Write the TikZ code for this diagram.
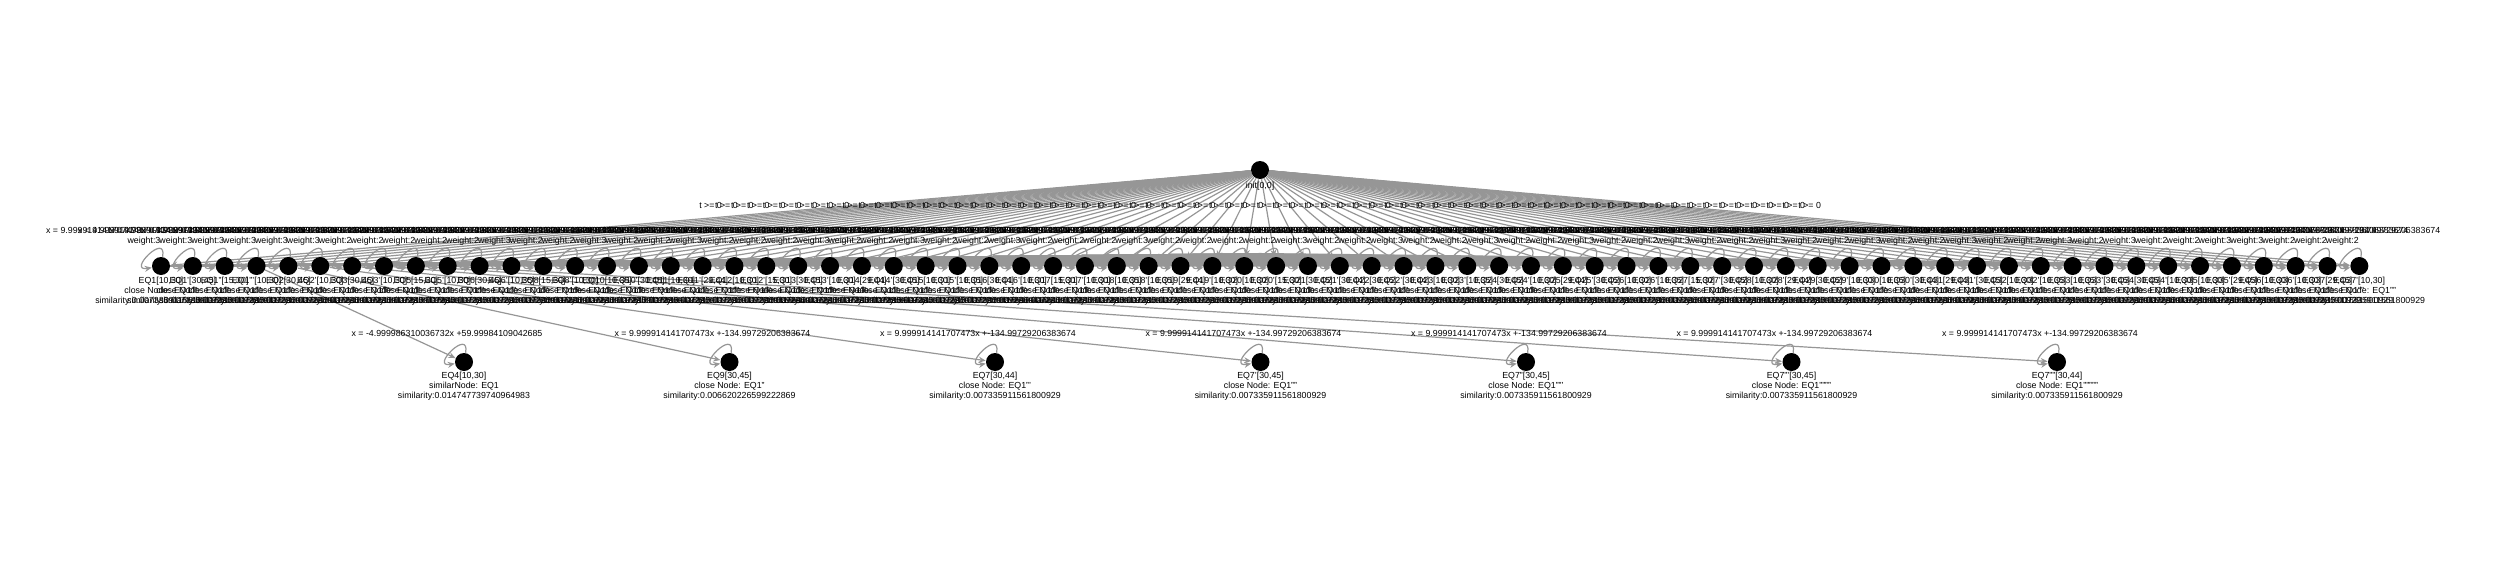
\documentclass[tikz,border=0pt]{standalone}
\usepackage{fontspec}
\setmainfont{Liberation Sans}
\usetikzlibrary{arrows.meta, positioning, backgrounds}

\definecolor{edgegrey}{RGB}{150,150,150}

\tikzset{
  eqnode/.style={circle, fill=black, minimum size=9pt, inner sep=0pt},
  eqtext/.style={font=\fontsize{4.4}{5}\selectfont, align=center, inner sep=0pt},
  link/.style={draw=edgegrey, line width=0.6pt, -{Stealth[length=3.5pt, width=3pt]}},
}

\begin{document}
\begin{tikzpicture}
  \useasboundingbox (0,0) rectangle (1250pt,-281pt);

  % root node
  \node[eqnode] (init) at (630pt,-85pt) {};
  \node[eqtext, below=1pt of init] (init label) {init[0,0]};

  % first row: one node per equation
  \foreach \i/\eqn in {0/{EQ1[10,30]},1/{EQ1'[30,45]},2/{EQ1''[15,30]},3/{EQ1'''[10,30]},4/{EQ2[30,45]},
      5/{EQ2'[10,30]},6/{EQ3[30,45]},7/{EQ3'[10,30]},8/{EQ5[15,30]},9/{EQ5'[10,30]},10/{EQ6[30,45]},
      11/{EQ6'[10,35]},12/{EQ8[15,30]},13/{EQ8'[10,30]},14/{EQ10[10,35]},15/{EQ10'[30,45]},16/{EQ11[10,30]},
      17/{EQ11'[29,44]},18/{EQ12[10,30]},19/{EQ12'[15,30]},20/{EQ13[30,45]},21/{EQ13'[10,30]},22/{EQ14[29,44]},
      23/{EQ14'[30,45]},24/{EQ15[10,30]},25/{EQ15'[10,35]},26/{EQ16[30,44]},27/{EQ16'[10,30]},28/{EQ17[15,30]},
      29/{EQ17'[10,30]},30/{EQ18[10,35]},31/{EQ18'[10,35]},32/{EQ19[29,44]},33/{EQ19'[10,30]},34/{EQ20[10,30]},
      35/{EQ20'[15,30]},36/{EQ21[30,45]},37/{EQ21'[30,44]},38/{EQ22[30,45]},39/{EQ22'[30,44]},40/{EQ23[10,30]},
      41/{EQ23'[10,35]},42/{EQ24[30,45]},43/{EQ24'[10,30]},44/{EQ25[29,44]},45/{EQ25'[30,45]},46/{EQ26[10,30]},
      47/{EQ26'[10,35]},48/{EQ27[15,30]},49/{EQ27'[30,45]},50/{EQ28[10,30]},51/{EQ28'[29,44]},52/{EQ29[30,45]},
      53/{EQ29'[10,30]},54/{EQ30[10,35]},55/{EQ30'[30,44]},56/{EQ31[29,44]},57/{EQ31'[30,45]},58/{EQ32[10,30]},
      59/{EQ32'[10,35]},60/{EQ33[10,35]},61/{EQ33'[30,45]},62/{EQ34[30,45]},63/{EQ34'[10,30]},64/{EQ35[10,30]},
      65/{EQ35'[29,45]},66/{EQ36[10,30]},67/{EQ36'[10,30]},68/{EQ37[29,45]},69/{EQ37'[10,30]}} {
    \node[eqnode] (r\i) at (80.5pt+15.93pt*\i,-133pt) {};
    \node[eqtext, below=0.5pt of r\i] (r\i label)
      {\eqn\\close Node: EQ1''''\\similarity:0.007335911561800929};
  }

  % loop labels
  \foreach \i/\wt in {0/3,1/3,2/3,3/3,4/3,5/3,6/2,7/2,8/2,9/2,10/2,11/3,12/2,13/2,14/3,15/2,16/2,17/3,18/2,19/2,
      20/2,21/3,22/2,23/2,24/3,25/2,26/2,27/3,28/2,29/2,30/2,31/3,32/2,33/2,34/2,35/2,36/3,37/2,38/2,39/3,
      40/2,41/2,42/3,43/2,44/2,45/3,46/2,47/2,48/3,49/2,50/2,51/3,52/2,53/2,54/3,55/2,56/2,57/3,58/2,59/2,
      60/3,61/2,62/3,63/2,64/2,65/3,66/3,67/2,68/2,69/2} {
    \node[eqtext, above=5.2pt of r\i, xshift=-8.5pt] (r\i loop)
      {x = 9.999914141707473x +-134.99729206383674\\weight:\wt};
  }

  % second row: similar and close nodes
  \foreach \k/\name/\sim/\simval/\fit in {
      0/{EQ4[10,30]}/similarNode: EQ1/0.014747739740964983/-4.999986310036732x +59.99984109042685,
      1/{EQ9[30,45]}/close Node: EQ1''/0.006620226599222869/9.999914141707473x +-134.99729206383674,
      2/{EQ7[30,44]}/close Node: EQ1'''/0.007335911561800929/9.999914141707473x +-134.99729206383674,
      3/{EQ7'[30,45]}/close Node: EQ1''''/0.007335911561800929/9.999914141707473x +-134.99729206383674,
      4/{EQ7''[30,45]}/close Node: EQ1'''''/0.007335911561800929/9.999914141707473x +-134.99729206383674,
      5/{EQ7'''[30,45]}/close Node: EQ1''''''''/0.007335911561800929/9.999914141707473x +-134.99729206383674,
      6/{EQ7''''[30,44]}/close Node: EQ1''''''''''/0.007335911561800929/9.999914141707473x +-134.99729206383674} {
    \node[eqnode] (b\k) at (232pt+132.75pt*\k,-181pt) {};
    \node[eqtext, below=0.3pt of b\k] (b\k label) {\name\\\sim\\similarity:\simval};
    \node[eqtext, above=8pt of b\k, xshift=-8.5pt] (b\k loop) {x = \fit};
  }

  % root link labels
  \foreach \i in {0,...,69} {
    \path (init) -- node[eqtext, yshift=6.5pt] {t >= 0} (r\i);
  }

  \begin{scope}[on background layer]
    % self loops
    \foreach \i in {0,...,69} {
      \draw[link] (r\i.80) .. controls +(80:13pt) and +(190:13pt) .. (r\i.190);
    }
    \foreach \k in {0,...,6} {
      \draw[link] (b\k.80) .. controls +(80:13pt) and +(190:13pt) .. (b\k.190);
    }

    % links from the root
    \foreach \i in {0,...,69} {
      \draw[link] (init) -- (r\i);
    }

    % links between the equations of the first row
    \foreach \j in {2,...,69} {
      \coordinate (m0-\j) at (80.5pt+7.965pt*\j,-133pt+0.09pt*\j);
      \draw[link] (r0) -- (m0-\j) -- (r\j);
    }
    \foreach \j in {4,...,40} {
      \coordinate (m2-\j) at (112.36pt+7.965pt*\j,-133pt+0.07pt*\j);
      \draw[link] (r2) -- (m2-\j) -- (r\j);
    }

    % links from the first row to the second row
    \foreach \i/\k in {3/0,4/1,5/2,6/3,7/4,8/5,9/6} {
      \draw[link] (r\i) -- (b\k);
    }
  \end{scope}
\end{tikzpicture}
\end{document}
